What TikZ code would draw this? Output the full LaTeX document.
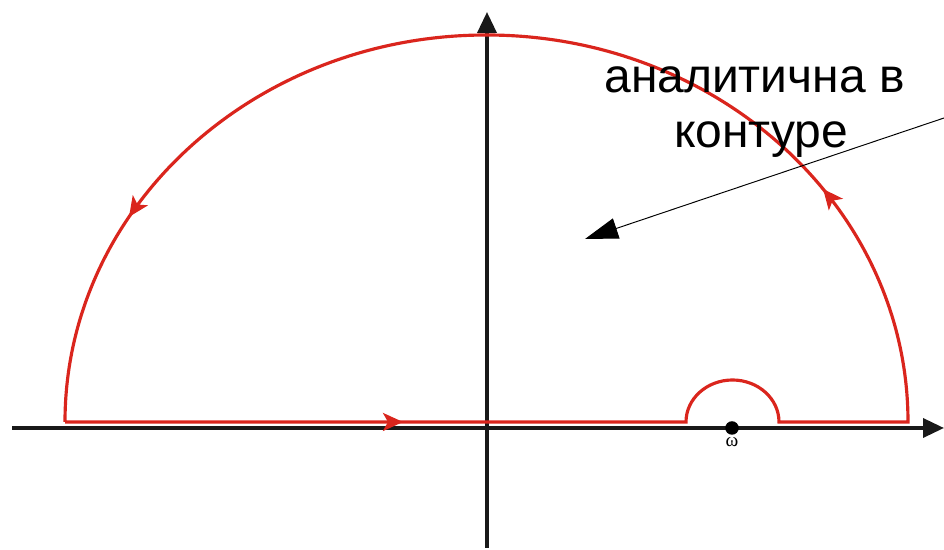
\documentclass[tikz,border=0pt]{standalone}
\usepackage{fontspec}
\setmainfont{Liberation Sans}
\newfontfamily\omegafont{Liberation Serif}
\usetikzlibrary{arrows.meta, decorations.markings}

\definecolor{contourred}{RGB}{218,37,29}

\begin{document}
\begin{tikzpicture}[
    x=0.02cm, y=0.02cm,
    axis/.style={line width=2pt, black!90, -{Triangle[length=0.42cm, width=0.38cm]}},
    contour/.style={line width=1.8pt, draw=contourred, line join=miter},
    pointer/.style={line width=0.55pt, -{Triangle[length=0.66cm, width=0.42cm]}},
    redtip/.tip={Stealth[length=0.4cm, width=0.36cm, inset=0.1cm]},
    walk/.style={postaction={decorate}, decoration={markings,
        mark=at position 0.1565 with {\arrow[contourred]{redtip}},
        mark=at position 0.5288 with {\arrow[contourred]{redtip}},
        mark=at position 0.899 with {\arrow[contourred]{redtip}}}},
]
\useasboundingbox (0,0) rectangle (944,550);

% axes
\draw[axis] (12,122) -- (944,122);
\draw[axis] (487,2) -- (487,538);

% contour
\draw[contour, walk] (65,128) -- (686,128)
    arc[start angle=180, end angle=0, x radius=46.5, y radius=42]
    -- (908,128)
    arc[start angle=0, end angle=180, x radius=421.5, y radius=387] -- cycle;

% pole
\node[circle, fill=black, inner sep=0pt, minimum size=0.27cm,
    label={[font=\omegafont\fontsize{11}{13}\selectfont, inner sep=1pt, label distance=0pt]below:ω}] (omega) at (732,122) {};

% label
\node[font=\fontsize{27.3}{31.2}\selectfont, align=center] (label) at (761,438) {аналитична в\hspace*{0.26cm}\\контуре};
\coordinate (ptail) at (944,432);
\coordinate (phead) at (585,311);
\draw[pointer] (ptail) -- (phead);
\end{tikzpicture}
\end{document}
